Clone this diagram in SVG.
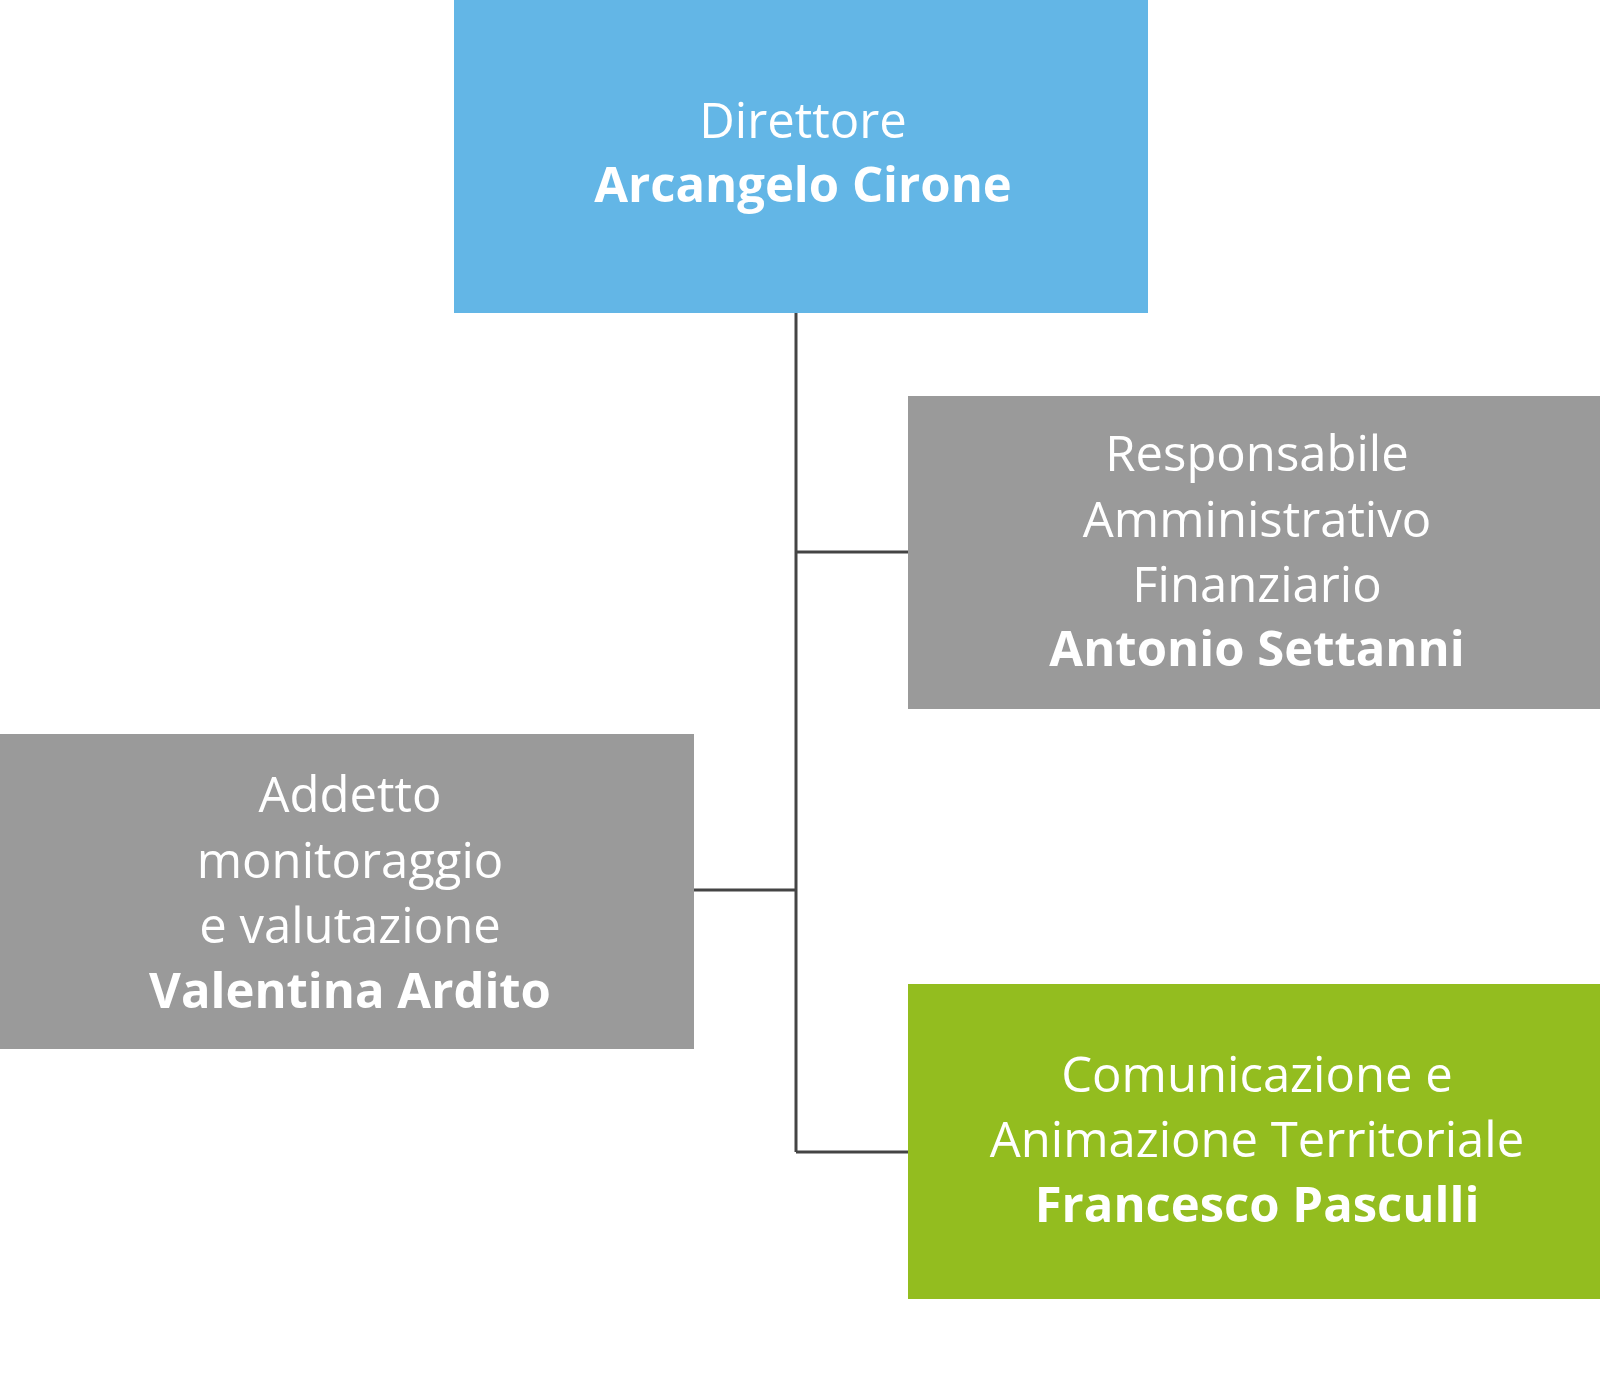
<svg xmlns="http://www.w3.org/2000/svg" width="1600" height="1382" viewBox="0 0 1600 1382">
<style>
text{font-family:"Open Sans","Liberation Sans",sans-serif;font-size:49px;fill:#fff;text-anchor:middle}
.b{font-weight:bold}
.c{stroke:#444;stroke-width:3;fill:none}
</style>
<rect width="1600" height="1382" fill="#fff"/>
<g id="connectors">
<path class="c" d="M796 313V1152M796 552H908M694 890H796M796 1152H908"/>
</g>
<g id="direttore"><rect x="454" y="0" width="694" height="313" fill="#63b6e6"/>
<text x="803" y="138">Direttore</text><text class="b" x="803" y="202">Arcangelo Cirone</text></g>
<g id="responsabile"><rect x="908" y="396" width="692" height="313" fill="#9a9a9a"/>
<text x="1257" y="471">Responsabile</text><text x="1257" y="537">Amministrativo</text><text x="1257" y="602">Finanziario</text><text class="b" x="1257" y="666">Antonio Settanni</text></g>
<g id="addetto"><rect x="0" y="734" width="694" height="315" fill="#9a9a9a"/>
<text x="350" y="812">Addetto</text><text x="350" y="878">monitoraggio</text><text x="350" y="943">e valutazione</text><text class="b" x="350" y="1008">Valentina Ardito</text></g>
<g id="comunicazione"><rect x="908" y="984" width="692" height="315" fill="#93bd1f"/>
<text x="1257" y="1092">Comunicazione e</text><text x="1257" y="1157">Animazione Territoriale</text><text class="b" x="1257" y="1222">Francesco Pasculli</text></g>
</svg>
